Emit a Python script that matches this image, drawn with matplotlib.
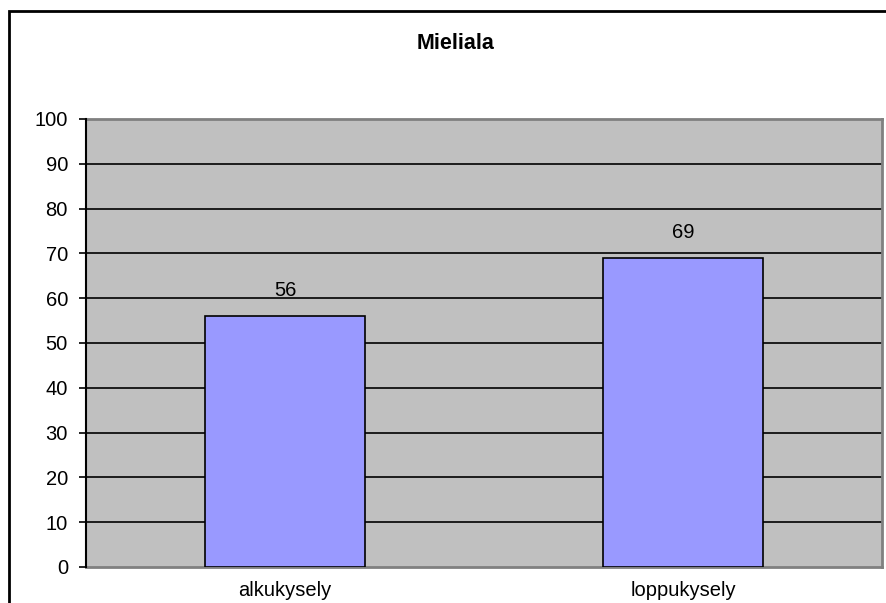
import matplotlib
matplotlib.use("Agg")
import matplotlib.pyplot as plt
from matplotlib.patches import Rectangle

categories = ["alkukysely", "loppukysely"]
values = [56, 69]
yticks = [0, 10, 20, 30, 40, 50, 60, 70, 80, 90, 100]

plt.rcParams['font.family'] = ['Liberation Sans', 'DejaVu Sans']

W, H = 887, 603
fig = plt.figure(figsize=(W / 100, H / 100), dpi=100)

# chart frame, runs off the right and bottom edge
fig.patches.append(Rectangle((9.5 / W, -0.1), 1.2, 1.1 - 10.5 / H,
                             transform=fig.transFigure, fill=False,
                             edgecolor='black', linewidth=2, clip_on=False))

left, right, top, bottom = 86, 882, 119, 567
ax = fig.add_axes([left / W, 1 - bottom / H, (right - left) / W, (bottom - top) / H])
ax.set_facecolor('#C0C0C0')

x = list(range(len(categories)))
ax.bar(x, values, width=0.4, color='#9999FF', edgecolor='black', linewidth=1.2, zorder=3)
for xi, v in zip(x, values):
    ax.text(xi, v + 4.5, str(v), ha='center', va='baseline', fontsize=14.5, zorder=4)

ax.set_xlim(-0.5, 1.5)
ax.set_ylim(0, 100)
ax.set_yticks(yticks)
ax.set_yticklabels([str(t) for t in yticks], fontsize=14.5)
ax.set_xticks(x)
ax.set_xticklabels(categories, fontsize=14.5)
ax.tick_params(axis='x', length=0, pad=10)
ax.tick_params(axis='y', length=5, width=1.2, pad=8)
for t in yticks[1:-1]:
    ax.axhline(t, color='black', linewidth=1.2, zorder=2)

ax.spines['left'].set_color('black')
ax.spines['left'].set_linewidth(1.5)
ax.spines['left'].set_zorder(5)
for s in ['top', 'right', 'bottom']:
    ax.spines[s].set_color('#808080')
    ax.spines[s].set_linewidth(2)

fig.text(456 / W, 1 - 49 / H, "Mieliala", ha='center', va='baseline',
         fontsize=15.5, fontweight='bold')

fig.savefig("out.png", dpi=100)
